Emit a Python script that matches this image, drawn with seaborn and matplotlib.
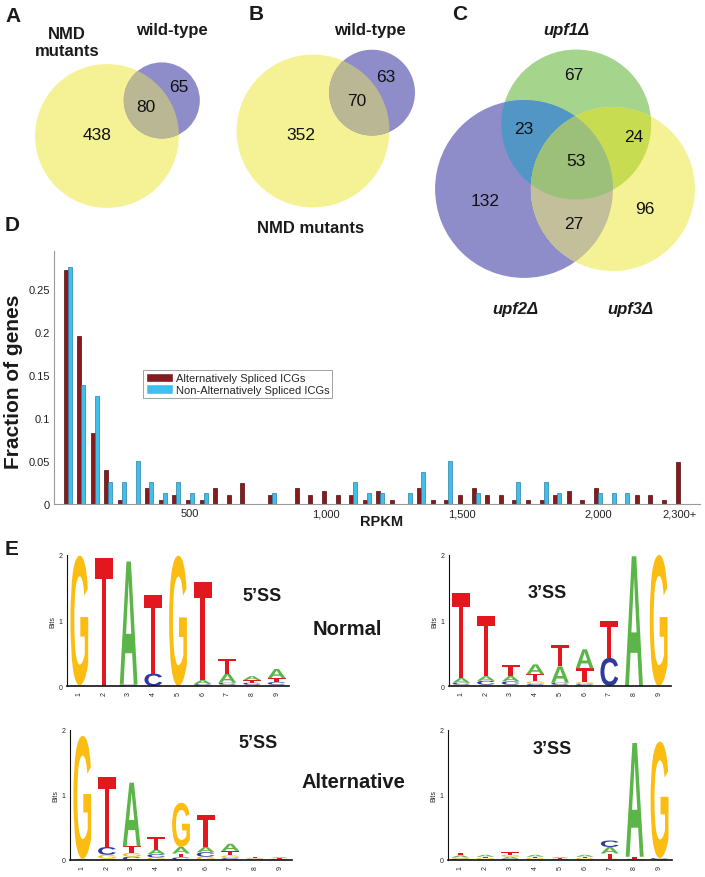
# Composite figure: Venn diagrams (A-C), RPKM distribution (D), splice-site logos (E)
import numpy as np
import pandas as pd
import matplotlib
matplotlib.use("Agg")
import matplotlib.pyplot as plt
import seaborn as sns
from matplotlib.patches import Circle, Polygon, PathPatch
from matplotlib.textpath import TextPath
from matplotlib.font_manager import FontProperties
from matplotlib.transforms import Affine2D

# ---------------- data ----------------
# A / B : [NMD mutants only, both, wild-type only]
venn_a = [438, 80, 65]
venn_b = [352, 70, 63]
# C : upf1 / upf2 / upf3 regions
upf1_only, upf2_only, upf3_only = 67, 132, 96
upf12, upf13, upf23, upf123 = 23, 24, 27, 53

# D : fraction of genes per 50-RPKM bin (last bin = 2,300+)
rpkm_bins = list(range(50, 2301, 50))
alt_frac = [0.272, 0.195, 0.083, 0.039, 0.005, 0.0, 0.019, 0.005, 0.010, 0.005,
            0.005, 0.019, 0.010, 0.024, 0.0, 0.010, 0.0, 0.019, 0.010, 0.015,
            0.010, 0.010, 0.005, 0.015, 0.005, 0.0, 0.019, 0.005, 0.005, 0.010,
            0.019, 0.010, 0.010, 0.005, 0.005, 0.005, 0.010, 0.015, 0.005, 0.019,
            0.0, 0.0, 0.010, 0.010, 0.005, 0.049]
nonalt_frac = [0.275, 0.138, 0.125, 0.025, 0.025, 0.050, 0.025, 0.0125, 0.025, 0.0125,
               0.0125, 0.0, 0.0, 0.0, 0.0, 0.0125, 0.0, 0.0, 0.0, 0.0,
               0.0, 0.025, 0.0125, 0.0125, 0.0, 0.0125, 0.0375, 0.0, 0.050, 0.0,
               0.0125, 0.0, 0.0, 0.025, 0.0, 0.025, 0.0125, 0.0, 0.0, 0.0125,
               0.0125, 0.0125, 0.0, 0.0, 0.0, 0.0]
series_names = ["Alternatively Spliced ICGs", "Non-Alternatively Spliced ICGs"]
xtick_vals = [500, 1000, 1500, 2000, 2300]
xtick_labels = ["500", "1,000", "1,500", "2,000", "2,300+"]
ytick_vals = [0, 0.05, 0.1, 0.15, 0.2, 0.25]
ytick_labels = ["0", "0.05", "0.1", "0.15", "0.2", "0.25"]

# E : information content (bits) per base, positions 1-9
norm5_A = [0.01, 0.0, 1.88, 0.0, 0.0, 0.06, 0.14, 0.06, 0.14]
norm5_C = [0.0, 0.0, 0.02, 0.19, 0.0, 0.03, 0.03, 0.03, 0.04]
norm5_G = [1.98, 0.0, 0.0, 0.0, 1.99, 0.0, 0.02, 0.02, 0.02]
norm5_T = [0.0, 1.95, 0.0, 1.20, 0.0, 1.50, 0.22, 0.04, 0.06]

norm3_A = [0.07, 0.07, 0.08, 0.15, 0.25, 0.29, 0.0, 1.98, 0.0]
norm3_C = [0.03, 0.06, 0.05, 0.03, 0.03, 0.03, 0.43, 0.0, 0.0]
norm3_G = [0.02, 0.02, 0.02, 0.04, 0.02, 0.03, 0.0, 0.0, 2.0]
norm3_T = [1.30, 0.92, 0.17, 0.11, 0.33, 0.21, 0.57, 0.0, 0.0]

alt5_A = [0.02, 0.02, 0.98, 0.07, 0.10, 0.08, 0.11, 0.01, 0.015]
alt5_C = [0.0, 0.12, 0.05, 0.05, 0.04, 0.07, 0.03, 0.01, 0.01]
alt5_G = [1.89, 0.06, 0.06, 0.04, 0.68, 0.05, 0.04, 0.01, 0.01]
alt5_T = [0.0, 1.07, 0.10, 0.20, 0.06, 0.50, 0.07, 0.015, 0.01]

alt3_A = [0.03, 0.03, 0.03, 0.03, 0.015, 0.03, 0.10, 1.75, 0.01]
alt3_C = [0.02, 0.01, 0.02, 0.01, 0.01, 0.01, 0.10, 0.01, 0.02]
alt3_G = [0.02, 0.02, 0.03, 0.02, 0.01, 0.02, 0.02, 0.01, 1.79]
alt3_T = [0.04, 0.02, 0.04, 0.02, 0.01, 0.02, 0.08, 0.03, 0.0]

positions = [1, 2, 3, 4, 5, 6, 7, 8, 9]

# ---------------- style ----------------
sns.set_style("white")
plt.rcParams["font.family"] = ["Liberation Sans", "DejaVu Sans"]

W, H = 705, 878
fig = plt.figure(figsize=(W / 100, H / 100), dpi=100)


def px_axes(left, top, right, bottom):
    return fig.add_axes([left / W, 1 - bottom / H, (right - left) / W, (bottom - top) / H])


# overlay in pixel coordinates for Venns and free text
ov = px_axes(0, 0, W, H)
ov.set_xlim(0, W)
ov.set_ylim(H, 0)
ov.axis("off")

YELLOW = "#f5f296"
PERI = "#8e8dc9"
OLIVE = "#bab894"


def overlap(r1, r2, d):
    if d >= r1 + r2:
        return 0.0
    if d <= abs(r1 - r2):
        return np.pi * min(r1, r2) ** 2
    a1 = r1 ** 2 * np.arccos((d * d + r1 * r1 - r2 * r2) / (2 * d * r1))
    a2 = r2 ** 2 * np.arccos((d * d + r2 * r2 - r1 * r1) / (2 * d * r2))
    k = 0.5 * np.sqrt((-d + r1 + r2) * (d + r1 - r2) * (d - r1 + r2) * (d + r1 + r2))
    return a1 + a2 - k


def spacing(r1, r2, area):
    lo, hi = abs(r1 - r2) + 1e-6, r1 + r2
    for _ in range(60):
        mid = (lo + hi) / 2
        if overlap(r1, r2, mid) > area:
            lo = mid
        else:
            hi = mid
    return (lo + hi) / 2


def lens(circles):
    pts = []
    t = np.linspace(0, 2 * np.pi, 900, endpoint=False)
    for i, (c, r) in enumerate(circles):
        p = np.column_stack([c[0] + r * np.cos(t), c[1] + r * np.sin(t)])
        keep = np.ones(len(p), bool)
        for j, (c2, r2) in enumerate(circles):
            if j != i:
                keep &= np.hypot(p[:, 0] - c2[0], p[:, 1] - c2[1]) <= r2 + 1e-6
        pts.append(p[keep])
    pts = np.vstack(pts)
    m = pts.mean(axis=0)
    return pts[np.argsort(np.arctan2(pts[:, 1] - m[1], pts[:, 0] - m[0]))]


def venn2(counts, scale, c1, angle):
    r1 = scale * np.sqrt(counts[0] + counts[1])
    r2 = scale * np.sqrt(counts[1] + counts[2])
    d = spacing(r1, r2, np.pi * scale ** 2 * counts[1])
    a = np.deg2rad(angle)
    c2 = (c1[0] + d * np.cos(a), c1[1] + d * np.sin(a))
    ov.add_patch(Circle(c1, r1, fc=YELLOW, ec="none"))
    ov.add_patch(Circle(c2, r2, fc=PERI, ec="none"))
    ov.add_patch(Polygon(lens([(c1, r1), (c2, r2)]), closed=True, fc=OLIVE, ec="none"))


venn2(venn_a, 3.16, (107, 137), -33)
venn2(venn_b, 3.72, (313, 132), -33)

# three-set Venn
k3 = 5.8
n1 = upf1_only + upf12 + upf13 + upf123
n2 = upf2_only + upf12 + upf23 + upf123
n3 = upf3_only + upf13 + upf23 + upf123
r1, r2, r3 = k3 * np.sqrt(n1), k3 * np.sqrt(n2), k3 * np.sqrt(n3)
d12 = spacing(r1, r2, np.pi * k3 ** 2 * (upf12 + upf123))
d13 = spacing(r1, r3, np.pi * k3 ** 2 * (upf13 + upf123))
d23 = spacing(r2, r3, np.pi * k3 ** 2 * (upf23 + upf123))
c2 = (524.0, 190.0)
c3 = (c2[0] + d23, c2[1])
dx = (d12 ** 2 - d13 ** 2 + d23 ** 2) / (2 * d23)
c1 = (c2[0] + dx, c2[1] - np.sqrt(max(d12 ** 2 - dx ** 2, 0)))
ov.add_patch(Circle(c1, r1, fc="#a5d48c", ec="none"))
ov.add_patch(Circle(c2, r2, fc=PERI, ec="none"))
ov.add_patch(Circle(c3, r3, fc=YELLOW, ec="none"))
ov.add_patch(Polygon(lens([(c1, r1), (c2, r2)]), fc="#5296c6", ec="none"))
ov.add_patch(Polygon(lens([(c1, r1), (c3, r3)]), fc="#c8dc52", ec="none"))
ov.add_patch(Polygon(lens([(c2, r2), (c3, r3)]), fc="#c2bf9a", ec="none"))
ov.add_patch(Polygon(lens([(c1, r1), (c2, r2), (c3, r3)]), fc="#9cc07a", ec="none"))

num = dict(fontsize=12.5, ha="center", va="center", color="#111111")
ov.text(97, 136, str(venn_a[0]), **num)
ov.text(146, 108, str(venn_a[1]), **num)
ov.text(179, 88, str(venn_a[2]), **num)
ov.text(301, 136, str(venn_b[0]), **num)
ov.text(357, 102, str(venn_b[1]), **num)
ov.text(386, 78, str(venn_b[2]), **num)
ov.text(574, 75, str(upf1_only), **num)
ov.text(524, 130, str(upf12), **num)
ov.text(634, 137, str(upf13), **num)
ov.text(576, 162, str(upf123), **num)
ov.text(485, 202, str(upf2_only), **num)
ov.text(574, 225, str(upf23), **num)
ov.text(645, 210, str(upf3_only), **num)

lab = dict(fontsize=12, fontweight="bold", ha="center", va="center", color="#1a1a1a")
ov.text(67, 43, "NMD\nmutants", linespacing=1.15, **lab)
ov.text(172, 31, "wild-type", **lab)
ov.text(370, 31, "wild-type", **lab)
ov.text(311, 229, "NMD mutants", **lab)
ov.text(566, 31, "upf1Δ", style="italic", **lab)
ov.text(515, 310, "upf2Δ", style="italic", **lab)
ov.text(630, 310, "upf3Δ", style="italic", **lab)

panel = dict(fontsize=15, fontweight="bold", ha="center", va="center", color="#1a1a1a")
for letter, x, y in [("A", 13, 17), ("B", 256, 15), ("C", 460, 15), ("D", 12, 226), ("E", 12, 550)]:
    ov.text(x, y, letter, **panel)

# ---------------- D : bar chart ----------------
df = pd.DataFrame({
    "RPKM": rpkm_bins + rpkm_bins,
    "Fraction": alt_frac + nonalt_frac,
    "Set": [series_names[0]] * len(rpkm_bins) + [series_names[1]] * len(rpkm_bins),
})
ax = px_axes(54, 252, 700, 505)
ax.patch.set_alpha(0)
sns.barplot(data=df, x="RPKM", y="Fraction", hue="Set", hue_order=series_names,
            native_scale=True, width=0.6, palette=["#861a1d", "#3ec0ec"],
            saturation=1, errorbar=None, ax=ax)
for cont, ec in zip(ax.containers, ["#4e0c0e", "#2a7fa6"]):
    for bar in cont:
        bar.set_edgecolor(ec)
        bar.set_linewidth(0.5 if bar.get_height() > 0 else 0)
ax.set_xlim(0, 2375)
ax.set_ylim(0, 0.294)
ax.set_xticks(xtick_vals, xtick_labels, fontsize=8, color="#222222")
ax.set_yticks(ytick_vals, ytick_labels, fontsize=8, color="#222222")
ax.tick_params(length=0, pad=3)
ax.set_xlabel("")
ax.set_ylabel("")
sns.despine(ax=ax)
for s in ["left", "bottom"]:
    ax.spines[s].set_color("#9a9a9a")
    ax.spines[s].set_linewidth(0.8)
old = ax.get_legend()
handles = old.legend_handles
old.remove()
leg = ax.legend(handles, series_names, loc="upper left", bbox_to_anchor=(0.138, 0.53),
                fontsize=8, frameon=True, fancybox=False, edgecolor="#8a8a8a",
                handlelength=2.4, handleheight=0.9, labelspacing=0.12,
                borderpad=0.25, handletextpad=0.3, borderaxespad=0)
leg.get_frame().set_linewidth(0.7)
ov.text(14, 382, "Fraction of genes", rotation=90, fontsize=15, fontweight="bold",
        ha="center", va="center", color="#1a1a1a")
ov.text(382, 522, "RPKM", fontsize=10.5, fontweight="bold", ha="center", va="center",
        color="#1a1a1a")

# ---------------- E : sequence logos ----------------
BASE_COLORS = {"A": "#5bb548", "C": "#2d3c9b", "G": "#fbbd12", "T": "#e3181f"}
LOGO_FONT = FontProperties(family="Liberation Sans", weight="bold")


def draw_letter(axl, ch, x, y0, h, w=0.72):
    tp = TextPath((0, 0), ch, size=1, prop=LOGO_FONT)
    ext = tp.get_extents()
    tr = (Affine2D().translate(-ext.x0, -ext.y0)
          .scale(w / ext.width, h / ext.height).translate(x - w / 2, y0))
    axl.add_patch(PathPatch(tr.transform_path(tp), fc=BASE_COLORS[ch], ec="none",
                            clip_on=False))


def draw_logo(box, a, c, g, t):
    axl = px_axes(*box)
    for i, pos in enumerate(positions):
        stack = sorted([(a[i], "A"), (c[i], "C"), (g[i], "G"), (t[i], "T")], key=lambda z: z[0])
        y = 0.0
        for h, ch in stack:
            if h > 0:
                draw_letter(axl, ch, pos, y, h)
                y += h
    axl.set_xlim(0.5, 9.5)
    axl.set_ylim(0, 2)
    axl.set_yticks([0, 1, 2], ["0", "1", "2"], fontsize=5)
    axl.set_xticks(positions, [str(p) for p in positions], fontsize=5, rotation=90)
    axl.tick_params(axis="y", length=2, width=0.6, pad=1)
    axl.tick_params(axis="x", length=1.5, width=0.6, pad=2)
    axl.set_ylabel("Bits", fontsize=5, labelpad=2)
    sns.despine(ax=axl)
    axl.spines["left"].set_linewidth(0.8)
    axl.spines["bottom"].set_linewidth(1.2)
    axl.spines["left"].set_color("#111111")
    axl.spines["bottom"].set_color("#111111")
    axl.patch.set_alpha(0)
    return axl


draw_logo((67, 556, 289, 687), norm5_A, norm5_C, norm5_G, norm5_T)
draw_logo((449, 556, 671, 687), norm3_A, norm3_C, norm3_G, norm3_T)
draw_logo((70, 731, 292, 861), alt5_A, alt5_C, alt5_G, alt5_T)
draw_logo((448, 731, 672, 861), alt3_A, alt3_C, alt3_G, alt3_T)

big = dict(fontweight="bold", ha="center", va="center", color="#1a1a1a")
ov.text(262, 597, "5’SS", fontsize=13, **big)
ov.text(547, 594, "3’SS", fontsize=13, **big)
ov.text(258, 744, "5’SS", fontsize=13, **big)
ov.text(552, 750, "3’SS", fontsize=13, **big)
ov.text(347, 630, "Normal", fontsize=14.5, **big)
ov.text(353, 783, "Alternative", fontsize=14.5, **big)

fig.savefig("out.png", dpi=100)
